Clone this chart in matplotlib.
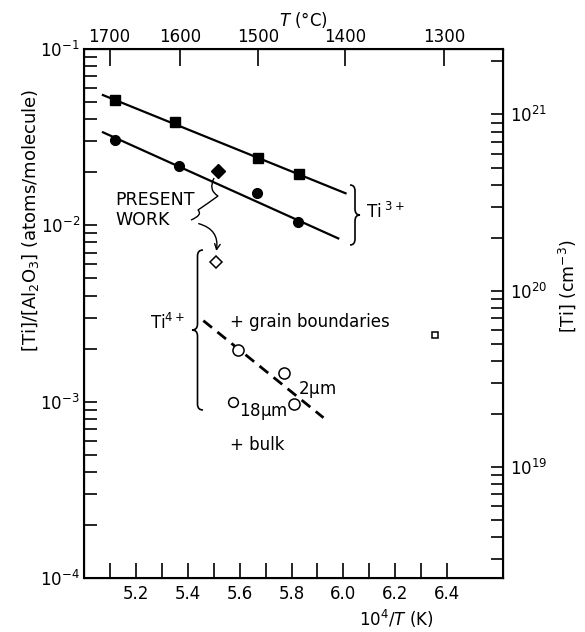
import numpy as np
import matplotlib.pyplot as plt
from matplotlib.path import Path
from matplotlib.patches import PathPatch

plt.rcParams['font.family'] = ['DejaVu Sans']
plt.rcParams['mathtext.default'] = 'regular'

W, H = 585, 632

# Ti3+ data (present work): 10^4/T (K) vs [Ti]/[Al2O3]
sq_x = [5.12, 5.35, 5.67, 5.83]
sq_y = [0.0513, 0.0385, 0.0240, 0.0195]
ci_x = [5.12, 5.365, 5.665, 5.823]
ci_y = [0.0304, 0.0216, 0.0152, 0.0104]
# fit lines as drawn
fit_sq_x = [5.073, 6.008]
fit_sq_y = [0.0548, 0.0152]
fit_ci_x = [5.073, 5.98]
fit_ci_y = [0.0337, 0.00843]

# present work diamonds
dia_x, dia_y = 5.515, 0.0203
odia_x, odia_y = 5.508, 0.00616

# Ti4+ (literature): open circles, small square
oc_x = [5.592, 5.77, 5.808]
oc_y = [0.00197, 0.00146, 0.000975]
oc18_x, oc18_y = 5.573, 0.00099
osq_x, osq_y = 6.354, 0.0024
dash_x = [5.46, 5.923]
dash_y = [0.00288, 0.000811]

xticks = [5.1, 5.2, 5.3, 5.4, 5.5, 5.6, 5.7, 5.8, 5.9, 6.0, 6.1, 6.2, 6.3, 6.4]
xlabels = ['', '5.2', '', '5.4', '', '5.6', '', '5.8', '', '6.0', '', '6.2', '', '6.4']
tc_ticks = [1700, 1600, 1500, 1400, 1300]
tc_shift = 0.03  # top scale is drawn slightly shifted in the original
n_al2o3 = 2.35e22  # Al2O3 molecules per cm^3


def fp(x, y):
    # pixel (from top-left) to figure fraction
    return (x / W, 1 - y / H)


fig = plt.figure(figsize=(W / 100, H / 100), dpi=100)
ax = fig.add_axes([84 / W, 1 - 578 / H, (503 - 84) / W, (578 - 49) / H])

ax.plot(fit_sq_x, fit_sq_y, color='black', lw=1.6)
ax.plot(fit_ci_x, fit_ci_y, color='black', lw=1.6)
ax.plot(sq_x, sq_y, 's', color='black', ms=7)
ax.plot(ci_x, ci_y, 'o', color='black', ms=7)
ax.plot(dia_x, dia_y, 'D', color='black', ms=7)
ax.plot(odia_x, odia_y, 'D', mfc='white', mec='black', mew=1.1, ms=6)
ax.plot(dash_x, dash_y, color='black', lw=2, ls=(0, (4, 2.5)))
ax.plot(oc_x, oc_y, 'o', mfc='white', mec='black', mew=1.1, ms=8)
ax.plot(oc18_x, oc18_y, 'o', mfc='white', mec='black', mew=1.1, ms=7)
ax.plot(osq_x, osq_y, 's', mfc='white', mec='black', mew=1.1, ms=5)

ax.set_yscale('log')
ax.set_ylim(1e-4, 1e-1)
ax.set_xlim(5.0, 6.615)
ax.set_xticks(xticks)
ax.set_xticklabels(xlabels)
ax.tick_params(axis='x', direction='in', length=11, width=1.2, labelsize=12, pad=5, top=False)
ax.tick_params(axis='y', which='both', direction='in', length=9, width=1.2, labelsize=12, pad=3, right=False)
for s in ax.spines.values():
    s.set_linewidth(1.5)

# right axis: [Ti] in cm^-3
ax2 = ax.twinx()
ax2.set_yscale('log')
ax2.set_ylim(1e-4 * n_al2o3, 1e-1 * n_al2o3)
ax2.tick_params(axis='y', which='both', direction='in', length=9, width=1.2, labelsize=12, pad=5)

# top axis: T in deg C
ax3 = ax.twiny()
ax3.set_xlim(ax.get_xlim())
ax3.set_xticks([1e4 / (t + 273) + tc_shift for t in tc_ticks])
ax3.set_xticklabels([str(t) for t in tc_ticks])
ax3.tick_params(axis='x', direction='in', length=12, width=1.2, labelsize=12, pad=2)

# axis titles
fig.text(*fp(31, 220), '[Ti]/[Al$_2$O$_3$] (atoms/molecule)', rotation=90,
         ha='center', va='center', fontsize=13)
fig.text(*fp(567, 286), '[Ti] (cm$^{-3}$)', rotation=90, ha='center', va='center', fontsize=12.5)
fig.text(*fp(303, 20), '$\\it{T}$ (°C)', ha='center', va='center', fontsize=12)
fig.text(*fp(396, 619), '10$^4$/$\\it{T}$ (K)', ha='center', va='center', fontsize=12)


def brace(x0, y0, y1, w, lw=1.2):
    # curly brace in pixel coords; w>0 points right, w<0 points left
    ym = (y0 + y1) / 2
    d = min(6, (y1 - y0) / 6)
    pts = [(x0, y0), (x0 + w / 2, y0), (x0 + w / 2, y0 + d),
           (x0 + w / 2, ym - d), (x0 + w / 2, ym), (x0 + w, ym),
           (x0 + w / 2, ym), (x0 + w / 2, ym + d),
           (x0 + w / 2, y1 - d), (x0 + w / 2, y1), (x0, y1)]
    codes = [Path.MOVETO, Path.CURVE3, Path.CURVE3, Path.LINETO,
             Path.CURVE3, Path.CURVE3, Path.CURVE3, Path.CURVE3,
             Path.LINETO, Path.CURVE3, Path.CURVE3]
    path = Path([fp(*p) for p in pts], codes)
    fig.patches.append(PathPatch(path, transform=fig.transFigure, fill=False,
                                 lw=lw, color='black'))


brace(350, 185, 245, 10)
fig.text(*fp(366, 212), 'Ti$^{\\ 3+}$', ha='left', va='center', fontsize=12)
brace(203, 250, 410, -11)
fig.text(*fp(185, 323), 'Ti$^{4+}$', ha='right', va='center', fontsize=12)

fig.text(*fp(115, 200), 'PRESENT', ha='left', va='center', fontsize=12.5)
fig.text(*fp(115, 220), 'WORK', ha='left', va='center', fontsize=12.5)
fig.text(*fp(230, 322), '+ grain boundaries', ha='left', va='center', fontsize=12)
fig.text(*fp(230, 445), '+ bulk', ha='left', va='center', fontsize=12)
fig.text(*fp(298, 389), '2$\\mu$m', ha='left', va='center', fontsize=12)
fig.text(*fp(239, 412), '18$\\mu$m', ha='left', va='center', fontsize=12)

# squiggly pointers for present work
sq1 = [(214, 178), (208, 190), (218, 196), (207, 204), (198, 210), (203, 215), (191, 220)]
path = Path([fp(*p) for p in sq1],
            [Path.MOVETO, Path.CURVE3, Path.CURVE3, Path.CURVE3, Path.CURVE3, Path.CURVE3, Path.CURVE3])
fig.patches.append(PathPatch(path, transform=fig.transFigure, fill=False, lw=1.0, color='black'))
ax.annotate('', xy=(odia_x, odia_y * 1.12), xycoords='data',
            xytext=fp(196, 223), textcoords='figure fraction',
            arrowprops=dict(arrowstyle='->', lw=1.0, color='black',
                            connectionstyle='arc3,rad=-0.5'))

plt.savefig('out.png', dpi=100)
